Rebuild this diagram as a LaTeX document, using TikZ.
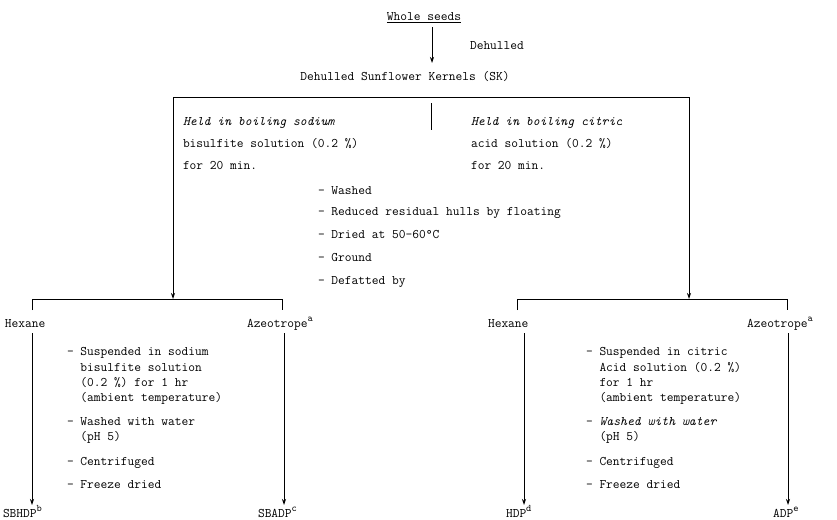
\documentclass[tikz,border=0pt]{standalone}
\usepackage{fontspec}
\usetikzlibrary{arrows.meta}
\newcommand{\supl}[1]{\raisebox{6pt}{\fontsize{10}{10}\selectfont #1}}
\begin{document}
\begin{tikzpicture}[x=1pt,y=-1pt,
  txt/.style={inner sep=0pt,outer sep=0pt,anchor=base west,font=\ttfamily\fontsize{13.1}{15}\selectfont},
  ln/.style={line width=0.8pt},
  arr/.style={line width=0.8pt,-{Stealth[length=6pt,width=4pt]}}]
\useasboundingbox (0,0) rectangle (837,519);
% top
\node[txt,anchor=base] (ws) at (424,21) {\underline{Whole seeds}};
\coordinate (a1) at (432,27);
\coordinate (a2) at (432,63);
\draw[arr] (a1) -- (a2);
\node[txt] (dh) at (470,50) {Dehulled};
\node[txt,anchor=base] (sk) at (405,81) {Dehulled Sunflower Kernels (SK)};
% main split
\coordinate (tl) at (173,97);
\coordinate (tr) at (689,97);
\coordinate (bl) at (173,299);
\coordinate (br) at (689,299);
\draw[ln] (tl) -- (tr);
\draw[arr] (tl) -- (bl);
\draw[arr] (tr) -- (br);
\coordinate (d1) at (431,103);
\coordinate (d2) at (431,130);
\draw[ln] (d1) -- (d2);
% columns
\node[txt] (l1) at (183,125) {\itshape Held in boiling sodium};
\node[txt] (l2) at (183,147) {bisulfite solution (0.2 \%)};
\node[txt] (l3) at (183,169) {for 20 min.};
\node[txt] (r1) at (471,125) {\itshape Held in boiling citric};
\node[txt] (r2) at (471,147) {acid solution (0.2 \%)};
\node[txt] (r3) at (471,169) {for 20 min.};
% center list
\node[txt] (c1) at (318,194) {- Washed};
\node[txt] (c2) at (318,215) {- Reduced residual hulls by floating};
\node[txt] (c3) at (318,238) {- Dried at 50-60°C};
\node[txt] (c4) at (318,261) {- Ground};
\node[txt] (c5) at (318,284) {- Defatted by};
% left branch
\coordinate (lb1) at (32,310);
\coordinate (lb2) at (32,299);
\coordinate (lb3) at (282,299);
\coordinate (lb4) at (282,310);
\draw[ln] (lb1) -- (lb2) -- (lb3) -- (lb4);
\node[txt] (lhex) at (5,327) {Hexane};
\node[txt] (laz) at (247,327) {Azeotrope\supl{a}};
\coordinate (la1) at (32,333);
\coordinate (la2) at (32,505);
\coordinate (la3) at (284,333);
\coordinate (la4) at (284,505);
\draw[arr] (la1) -- (la2);
\draw[arr] (la3) -- (la4);
\node[txt] (ll1) at (67,355) {- Suspended in sodium};
\node[txt] (ll2) at (67,371) {\ \ bisulfite solution};
\node[txt] (ll3) at (67,386) {\ \ (0.2 \%) for 1 hr};
\node[txt] (ll4) at (67,401) {\ \ (ambient temperature)};
\node[txt] (ll5) at (67,425) {- Washed with water};
\node[txt] (ll6) at (67,440) {\ \ (pH 5)};
\node[txt] (ll7) at (67,465) {- Centrifuged};
\node[txt] (ll8) at (67,488) {- Freeze dried};
\node[txt] (lo1) at (3,517) {SBHDP\supl{b}};
\node[txt] (lo2) at (258,517) {SBADP\supl{c}};
% right branch
\coordinate (rb1) at (517,310);
\coordinate (rb2) at (517,299);
\coordinate (rb3) at (787,299);
\coordinate (rb4) at (787,310);
\draw[ln] (rb1) -- (rb2) -- (rb3) -- (rb4);
\node[txt] (rhex) at (488,327) {Hexane};
\node[txt] (raz) at (747,327) {Azeotrope\supl{a}};
\coordinate (ra1) at (524,333);
\coordinate (ra2) at (524,505);
\coordinate (ra3) at (788,333);
\coordinate (ra4) at (788,505);
\draw[arr] (ra1) -- (ra2);
\draw[arr] (ra3) -- (ra4);
\node[txt] (rl1) at (586,355) {- Suspended in citric};
\node[txt] (rl2) at (586,371) {\ \ Acid solution (0.2 \%)};
\node[txt] (rl3) at (586,386) {\ \ for 1 hr};
\node[txt] (rl4) at (586,401) {\ \ (ambient temperature)};
\node[txt] (rl5) at (586,425) {- \textit{Washed with water}};
\node[txt] (rl6) at (586,440) {\ \ (pH 5)};
\node[txt] (rl7) at (586,465) {- Centrifuged};
\node[txt] (rl8) at (586,488) {- Freeze dried};
\node[txt] (ro1) at (506,517) {HDP\supl{d}};
\node[txt] (ro2) at (773,517) {ADP\supl{e}};
\end{tikzpicture}
\end{document}
